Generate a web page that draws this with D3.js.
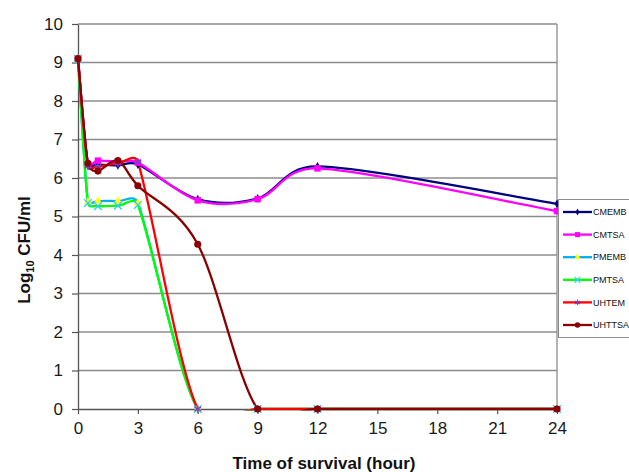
<!DOCTYPE html>
<html>
<head>
<meta charset="utf-8">
<script src="https://cdn.jsdelivr.net/npm/d3@7"></script>
<style>
  body { margin: 0; background: #fff; }
  svg { display: block; }
</style>
</head>
<body>
<div id="chart"></div>
<script>
// sampling times (hours)
const hours = [0, 0.5, 1, 2, 3, 6, 9, 12, 24];

// log10 CFU/ml per series
const cmemb  = [9.1, 6.35, 6.35, 6.33, 6.35, 5.45, 5.47, 6.3, 5.33];
const cmtsa  = [9.1, 6.35, 6.45, 6.42, 6.4, 5.42, 5.45, 6.25, 5.14];
const pmemb  = [9.1, 5.38, 5.4, 5.4, 5.35, 0, 0, 0, 0];
const pmtsa  = [9.1, 5.35, 5.27, 5.28, 5.3, 0, 0, 0, 0];
const uhtem  = [9.1, 6.3, 6.3, 6.38, 6.42, 0, 0, 0, 0];
const uhttsa = [9.1, 6.38, 6.18, 6.45, 5.8, 4.28, 0, 0, 0];

const seriesNames = ['CMEMB', 'CMTSA', 'PMEMB', 'PMTSA', 'UHTEM', 'UHTTSA'];
const seriesValues = [cmemb, cmtsa, pmemb, pmtsa, uhtem, uhttsa];

const xTickValues = [0, 3, 6, 9, 12, 15, 18, 21, 24];
const yTickValues = [0, 1, 2, 3, 4, 5, 6, 7, 8, 9, 10];

const styles = [
  { line: '#000080', symbol: d3.symbolDiamond, size: 22, fill: '#000080', stroke: 'none' },
  { line: '#ff00ff', symbol: d3.symbolSquare, size: 42, fill: '#ff00ff', stroke: 'none' },
  { line: '#00b0f0', symbol: d3.symbolTriangle, size: 30, fill: '#ffff00', stroke: 'none' },
  { line: '#00ff00', symbol: d3.symbolTimes, size: 40, fill: 'none', stroke: '#33ccff' },
  { line: '#ff0000', symbol: d3.symbolAsterisk, size: 40, fill: 'none', stroke: '#8040c0' },
  { line: '#8b0000', symbol: d3.symbolCircle, size: 40, fill: '#8b0000', stroke: 'none' }
];

const width = 629, height = 472;
const margin = { top: 24, right: 72, bottom: 63, left: 78 };
const plotW = width - margin.left - margin.right;
const plotH = height - margin.top - margin.bottom;

// Excel-style smoothed line: bezier with neighbour tangents, capped at half the segment
function curveExcel(context) {
  let pts;
  const dist = (a, b) => Math.hypot(b[0] - a[0], b[1] - a[1]);
  return {
    areaStart() {}, areaEnd() {},
    lineStart() { pts = []; },
    point(x, y) { pts.push([+x, +y]); },
    lineEnd() {
      if (!pts.length) return;
      context.moveTo(pts[0][0], pts[0][1]);
      const n = pts.length;
      for (let i = 0; i < n - 1; i++) {
        const p0 = pts[Math.max(i - 1, 0)], p1 = pts[i], p2 = pts[i + 1], p3 = pts[Math.min(i + 2, n - 1)];
        const d12 = dist(p1, p2), d02 = dist(p0, p2), d13 = dist(p1, p3);
        let f0 = 1 / 6, f1 = 1 / 6;
        if (d02 / 6 >= d12 / 2 && d02 > 0) f0 = d12 / 2 / d02;
        if (d13 / 6 >= d12 / 2 && d13 > 0) f1 = d12 / 2 / d13;
        context.bezierCurveTo(
          p1[0] + f0 * (p2[0] - p0[0]), p1[1] + f0 * (p2[1] - p0[1]),
          p2[0] - f1 * (p3[0] - p1[0]), p2[1] - f1 * (p3[1] - p1[1]),
          p2[0], p2[1]);
      }
    }
  };
}

const svg = d3.select('#chart').append('svg')
  .attr('width', width)
  .attr('height', height)
  .attr('font-family', '"Liberation Sans", Arial, sans-serif');

svg.append('rect').attr('width', width).attr('height', height).attr('fill', '#fff');

const x = d3.scaleLinear().domain([0, 24]).range([margin.left, margin.left + plotW]);
const y = d3.scaleLinear().domain([0, 10]).range([margin.top + plotH, margin.top]);

svg.append('defs').append('clipPath').attr('id', 'plot-clip')
  .append('rect')
  .attr('x', margin.left - 2).attr('y', margin.top - 2)
  .attr('width', plotW + 4).attr('height', plotH + 3.5);

// gridlines
svg.append('g')
  .selectAll('line')
  .data(yTickValues.filter(d => d > 0))
  .join('line')
  .attr('x1', x(0)).attr('x2', x(24))
  .attr('y1', d => y(d)).attr('y2', d => y(d))
  .attr('stroke', '#8c8c8c')
  .attr('stroke-width', 1.3);

// right border of plot area
svg.append('line')
  .attr('x1', x(24)).attr('x2', x(24))
  .attr('y1', y(10)).attr('y2', y(0))
  .attr('stroke', '#8c8c8c')
  .attr('stroke-width', 1.3);

// axes
const yAxis = svg.append('g')
  .attr('transform', `translate(${margin.left},0)`)
  .call(d3.axisLeft(y).tickValues(yTickValues).tickSize(6).tickPadding(9).tickSizeOuter(0));
const xAxis = svg.append('g')
  .attr('transform', `translate(0,${y(0)})`)
  .call(d3.axisBottom(x).tickValues(xTickValues).tickSize(5).tickPadding(8).tickSizeOuter(0));

[yAxis, xAxis].forEach(ax => {
  ax.select('.domain').attr('stroke', '#555').attr('stroke-width', 1.3);
  ax.selectAll('.tick line').attr('stroke', '#555').attr('stroke-width', 1.2);
  ax.selectAll('.tick text')
    .attr('font-size', 17)
    .attr('font-family', '"Liberation Sans", Arial, sans-serif')
    .attr('fill', '#1a1a1a');
});

// axis titles
svg.append('text')
  .attr('x', 324).attr('y', 469)
  .attr('text-anchor', 'middle')
  .attr('font-size', 17).attr('font-weight', 'bold')
  .attr('fill', '#111')
  .text('Time of survival (hour)');

const yTitle = svg.append('text')
  .attr('transform', 'translate(30,250) rotate(-90)')
  .attr('text-anchor', 'middle')
  .attr('font-size', 17).attr('font-weight', 'bold')
  .attr('fill', '#111');
yTitle.append('tspan').text('Log');
yTitle.append('tspan').attr('font-size', 11).attr('dy', 4).text('10');
yTitle.append('tspan').attr('dy', -4).text(' CFU/ml');

// series
const line = d3.line()
  .x(d => x(d[0]))
  .y(d => y(d[1]))
  .curve(curveExcel);

const lines = svg.append('g').attr('clip-path', 'url(#plot-clip)');
const marks = svg.append('g');

seriesValues.forEach((vals, i) => {
  const st = styles[i];
  const pts = hours.map((h, j) => [h, vals[j]]);
  lines.append('path')
    .attr('d', line(pts))
    .attr('fill', 'none')
    .attr('stroke', st.line)
    .attr('stroke-width', 2.3)
    .attr('stroke-linejoin', 'round');
  const sym = d3.symbol().type(st.symbol).size(st.size);
  marks.append('g')
    .selectAll('path')
    .data(pts)
    .join('path')
    .attr('transform', d => `translate(${x(d[0])},${y(d[1])})`)
    .attr('d', sym())
    .attr('fill', st.fill)
    .attr('stroke', st.stroke)
    .attr('stroke-width', 1.4);
});

// legend
const legend = svg.append('g').attr('transform', 'translate(558,199)');
legend.append('rect')
  .attr('x', 0.5).attr('y', 0.5)
  .attr('width', 90).attr('height', 138)
  .attr('fill', '#fff')
  .attr('stroke', '#8c8c8c');

const legendY = d3.scalePoint().domain(seriesNames).range([13, 126]);
seriesNames.forEach((name, i) => {
  const st = styles[i];
  const g = legend.append('g').attr('transform', `translate(0,${legendY(name)})`);
  g.append('line')
    .attr('x1', 5).attr('x2', 34)
    .attr('stroke', st.line).attr('stroke-width', 2.3);
  g.append('path')
    .attr('transform', 'translate(19.5,0)')
    .attr('d', d3.symbol().type(st.symbol).size(st.size * 0.6)())
    .attr('fill', st.fill).attr('stroke', st.stroke).attr('stroke-width', 1.2);
  g.append('text')
    .attr('x', 35).attr('dy', '0.35em')
    .attr('font-size', 9)
    .attr('fill', '#111')
    .text(name);
});
</script>
</body>
</html>
